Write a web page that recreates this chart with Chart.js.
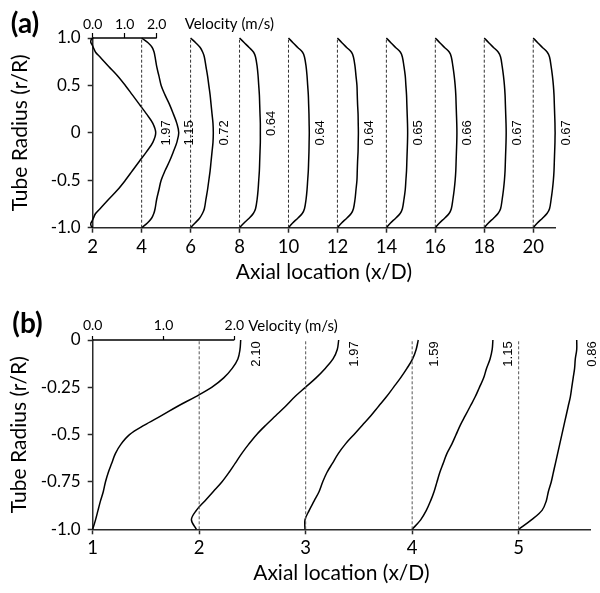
<!DOCTYPE html>
<html>
<head>
<meta charset="utf-8">
<script src="https://cdn.jsdelivr.net/npm/chart.js@4.4.0/dist/chart.umd.min.js"></script>
<style>
  html, body { margin: 0; padding: 0; background: #fff; }
  #wrap { position: relative; width: 600px; height: 593px; }
  canvas { position: absolute; left: 0; display: block; }
  #chartA { top: 0; }
  #chartB { top: 290px; }
</style>
</head>
<body>
<div id="wrap">
  <canvas id="chartA" width="600" height="290"></canvas>
  <canvas id="chartB" width="600" height="303"></canvas>
</div>
<script>
// ---------- panel (a) data ----------
const stationsA = [2, 4, 6, 8, 10, 12, 14, 16, 18, 20];
const xTicksA = [2, 4, 6, 8, 10, 12, 14, 16, 18, 20];
const xTickLabelsA = ['2', '4', '6', '8', '10', '12', '14', '16', '18', '20'];
const yTicksA = [-1, -0.5, 0, 0.5, 1];
const yTickLabelsA = ['-1.0', '-0.5', '0', '0.5', '1.0'];
const velTicks = [0, 1, 2];
const peakLabelsA = ['1.97', '1.15', '0.72', '0.64', '0.64', '0.64', '0.65', '0.66', '0.67', '0.67'];

// inlet profile has the little loops at the wall
const radiusInletA = [1, 0.98, 0.955, 0.93, 0.9, 0.85, 0.8, 0.7, 0.6, 0.5, 0.4, 0.3, 0.2, 0.1, 0,
  -0.1, -0.2, -0.3, -0.4, -0.5, -0.6, -0.7, -0.8, -0.85, -0.9, -0.93, -0.955, -0.98, -1];
const velA2 = [0, -0.05, -0.06, -0.02, 0.02, 0.09, 0.23, 0.5, 0.78, 1.02, 1.24, 1.46, 1.68, 1.88, 1.97,
  1.88, 1.68, 1.46, 1.24, 1.02, 0.78, 0.5, 0.23, 0.09, 0.02, -0.02, -0.06, -0.05, 0];

const radiusA = [1, 0.95, 0.9, 0.85, 0.8, 0.7, 0.6, 0.5, 0.4, 0.3, 0.2, 0.1, 0,
  -0.1, -0.2, -0.3, -0.4, -0.5, -0.6, -0.7, -0.8, -0.85, -0.9, -0.95, -1];
const velA4 = [0, 0.2, 0.33, 0.39, 0.42, 0.47, 0.54, 0.61, 0.73, 0.87, 0.99, 1.1, 1.16,
  1.1, 0.99, 0.87, 0.73, 0.61, 0.54, 0.47, 0.42, 0.38, 0.31, 0.18, 0];
const velA6 = [0, 0.16, 0.3, 0.38, 0.43, 0.48, 0.53, 0.57, 0.61, 0.64, 0.67, 0.7, 0.71,
  0.7, 0.67, 0.64, 0.61, 0.57, 0.53, 0.48, 0.43, 0.37, 0.28, 0.14, 0];
const velA8 = [0, 0.15, 0.3, 0.44, 0.5, 0.55, 0.58, 0.6, 0.62, 0.63, 0.64, 0.65, 0.65,
  0.65, 0.64, 0.63, 0.62, 0.6, 0.58, 0.55, 0.5, 0.43, 0.3, 0.14, 0];
const velA10 = [0, 0.14, 0.29, 0.44, 0.5, 0.55, 0.58, 0.6, 0.62, 0.63, 0.64, 0.645, 0.65,
  0.645, 0.64, 0.63, 0.62, 0.6, 0.58, 0.55, 0.5, 0.43, 0.29, 0.13, 0];
const velA12 = [0, 0.14, 0.29, 0.44, 0.5, 0.55, 0.58, 0.61, 0.62, 0.63, 0.645, 0.65, 0.655,
  0.65, 0.645, 0.63, 0.62, 0.61, 0.58, 0.55, 0.5, 0.43, 0.29, 0.13, 0];
const velA14 = [0, 0.14, 0.29, 0.44, 0.5, 0.55, 0.59, 0.61, 0.63, 0.64, 0.65, 0.66, 0.665,
  0.66, 0.65, 0.64, 0.63, 0.61, 0.59, 0.55, 0.5, 0.43, 0.29, 0.13, 0];
const velA16 = [0, 0.14, 0.29, 0.44, 0.5, 0.55, 0.59, 0.62, 0.64, 0.65, 0.66, 0.67, 0.675,
  0.67, 0.66, 0.65, 0.64, 0.62, 0.59, 0.55, 0.5, 0.43, 0.29, 0.13, 0];
const velA18 = [0, 0.14, 0.29, 0.44, 0.51, 0.56, 0.6, 0.63, 0.65, 0.66, 0.67, 0.68, 0.685,
  0.68, 0.67, 0.66, 0.65, 0.63, 0.6, 0.56, 0.51, 0.43, 0.29, 0.13, 0];
const velA20 = [0, 0.14, 0.29, 0.44, 0.51, 0.56, 0.6, 0.63, 0.65, 0.66, 0.67, 0.68, 0.685,
  0.68, 0.67, 0.66, 0.65, 0.63, 0.6, 0.56, 0.51, 0.43, 0.29, 0.13, 0];

// ---------- panel (b) data ----------
const stationsB = [1, 2, 3, 4, 5];
const xTicksB = [1, 2, 3, 4, 5];
const xTickLabelsB = ['1', '2', '3', '4', '5'];
const yTicksB = [-1, -0.75, -0.5, -0.25, 0];
const yTickLabelsB = ['-1.0', '-0.75', '-0.5', '-0.25', '0'];
const peakLabelsB = ['2.10', '1.97', '1.59', '1.15', '0.86'];

const radiusB = [0, -0.05, -0.1, -0.15, -0.2, -0.25, -0.3, -0.35, -0.4, -0.45, -0.5,
  -0.55, -0.6, -0.65, -0.7, -0.75, -0.8, -0.85, -0.9, -0.95, -1];
const velB1 = [2.09, 2.08, 2.05, 1.97, 1.85, 1.68, 1.45, 1.2, 0.97, 0.73, 0.52,
  0.4, 0.32, 0.27, 0.22, 0.18, 0.15, 0.11, 0.075, 0.04, 0];
const velB2 = [1.97, 1.95, 1.89, 1.78, 1.65, 1.5, 1.35, 1.22, 1.08, 0.94, 0.81,
  0.7, 0.6, 0.51, 0.42, 0.32, 0.2, 0.08, -0.04, -0.11, -0.04];
const velB3 = [1.59, 1.56, 1.51, 1.43, 1.34, 1.24, 1.14, 1.03, 0.92, 0.8, 0.68,
  0.56, 0.46, 0.38, 0.3, 0.24, 0.19, 0.12, 0.05, -0.01, -0.01];
const velB4 = [1.14, 1.13, 1.1, 1.05, 1.01, 0.95, 0.89, 0.82, 0.75, 0.68, 0.62,
  0.56, 0.49, 0.44, 0.39, 0.35, 0.31, 0.26, 0.2, 0.12, 0];
const velB5 = [0.82, 0.82, 0.8, 0.79, 0.77, 0.75, 0.73, 0.7, 0.67, 0.64, 0.61,
  0.58, 0.55, 0.52, 0.49, 0.46, 0.42, 0.39, 0.33, 0.18, 0];

const titleFont = { family: 'Lato', size: 21 };
const tickFontY = { family: 'Lato', size: 17 };
const tickFontX = { family: 'Lato', size: 18.5 };
const velTickFont = { family: 'Lato', size: 14 };
const axisColor = '#2a2a2a';

// draws panel letter, velocity caption and the rotated peak labels
const annotatePanel = {
  id: 'annotatePanel',
  afterDatasetsDraw(chart, args, opts) {
    const { ctx, chartArea, scales } = chart;
    ctx.save();
    ctx.fillStyle = '#000';

    ctx.font = 'bold 28px Lato';
    ctx.textAlign = 'center';
    ctx.textBaseline = 'middle';
    ctx.fillText(opts.letter, opts.letterX, opts.letterY);

    ctx.font = '15px Lato';
    ctx.textAlign = 'left';
    const capX = scales.v.getPixelForValue(velTicks[velTicks.length - 1]) + opts.captionGap;
    ctx.fillText('Velocity (m/s)', capX, chartArea.top - opts.captionRise);

    ctx.font = '13px "Liberation Sans", Arial';
    ctx.textAlign = 'center';
    opts.profiles.forEach((p, i) => {
      let peak = 0;
      p.vel.forEach((v, j) => { if (v > p.vel[peak]) peak = j; });
      const x = scales.x.getPixelForValue(p.station + p.vel[peak] * opts.velScale) + opts.labelDx;
      const y = scales.y.getPixelForValue(p.radius[peak]) + opts.labelDy;
      ctx.save();
      ctx.translate(x, y);
      ctx.rotate(-Math.PI / 2);
      ctx.fillText(opts.labels[i], 0, 0);
      ctx.restore();
    });
    ctx.restore();
  },
};

const buildPanel = (canvasId, p) => {
  const datasets = [];

  // short velocity axis line along the top
  datasets.push({
    xAxisID: 'v',
    data: [{ x: velTicks[0], y: p.yMax }, { x: velTicks[velTicks.length - 1], y: p.yMax }],
    showLine: true,
    borderColor: '#000',
    borderWidth: 1.5,
    pointRadius: 0,
    clip: false,
  });

  p.stations.slice(1).forEach(s => {
    datasets.push({
      data: [{ x: s, y: p.yMin }, { x: s, y: p.yMax }],
      showLine: true,
      borderColor: p.dashColor,
      borderWidth: 1,
      borderDash: [3, 2],
      pointRadius: 0,
    });
  });

  p.profiles.forEach(pr => {
    datasets.push({
      data: pr.radius.map((r, i) => ({ x: pr.station + pr.vel[i] * p.velScale, y: r })),
      showLine: true,
      borderColor: '#000',
      borderWidth: 1.5,
      pointRadius: 0,
      tension: 0.35,
      clip: false,
    });
  });

  const canvas = document.getElementById(canvasId);
  return new Chart(canvas.getContext('2d'), {
    type: 'scatter',
    data: { datasets: datasets },
    options: {
      responsive: false,
      animation: false,
      devicePixelRatio: 1,
      layout: { padding: { left: 0, right: p.padRight, top: 0, bottom: 0 } },
      plugins: {
        legend: { display: false },
        tooltip: { enabled: false },
        annotatePanel: {
          letter: p.letter,
          letterX: p.letterX,
          letterY: p.letterY,
          captionGap: p.captionGap,
          captionRise: p.captionRise,
          labels: p.labels,
          profiles: p.profiles,
          velScale: p.velScale,
          labelDx: p.labelDx,
          labelDy: p.labelDy,
        },
      },
      scales: {
        x: {
          type: 'linear',
          position: 'bottom',
          min: p.xMin,
          max: p.xMax,
          afterBuildTicks: s => { s.ticks = p.xTicks.map(v => ({ value: v })); },
          afterFit: s => { s.height = p.xAxisHeight; },
          ticks: {
            callback: (v, i) => p.xTickLabels[i],
            font: tickFontX,
            color: '#000',
            padding: 3,
            maxRotation: 0,
            autoSkip: false,
          },
          grid: { drawOnChartArea: false, drawTicks: true, tickLength: 5, tickColor: axisColor, tickWidth: 1.5 },
          border: { display: true, color: axisColor, width: 1.5 },
          title: {
            display: true,
            text: 'Axial location (x/D)',
            font: titleFont,
            color: '#000',
            padding: { top: 0, bottom: p.xTitlePad },
          },
        },
        y: {
          type: 'linear',
          position: 'left',
          min: p.yMin,
          max: p.yMax,
          afterBuildTicks: s => { s.ticks = p.yTicks.map(v => ({ value: v })); },
          afterFit: s => { s.width = p.yAxisWidth; },
          ticks: {
            callback: (v, i) => p.yTickLabels[i],
            font: tickFontY,
            color: '#000',
            padding: 7,
          },
          grid: { drawOnChartArea: false, drawTicks: true, tickLength: 5, tickColor: axisColor, tickWidth: 1.5 },
          border: { display: true, color: axisColor, width: 1.5 },
          title: {
            display: true,
            text: 'Tube Radius (r/R)',
            font: titleFont,
            color: '#000',
            padding: { top: p.yTitlePad, bottom: 0 },
          },
        },
        v: {
          type: 'linear',
          position: 'top',
          min: 0,
          max: (p.xMax - p.xMin) / p.velScale,
          afterBuildTicks: s => { s.ticks = velTicks.map(v => ({ value: v })); },
          afterFit: s => { s.height = p.topHeight; },
          ticks: {
            callback: v => v.toFixed(1),
            font: velTickFont,
            color: '#000',
            padding: p.velTickPad,
            maxRotation: 0,
            autoSkip: false,
          },
          grid: { drawOnChartArea: false, drawTicks: true, tickLength: p.velTickLen, tickColor: '#000', tickWidth: 1.2 },
          border: { display: false },
        },
      },
    },
    plugins: [annotatePanel],
  });
};

const profilesA = [
  { station: stationsA[0], radius: radiusInletA, vel: velA2 },
  { station: stationsA[1], radius: radiusA, vel: velA4 },
  { station: stationsA[2], radius: radiusA, vel: velA6 },
  { station: stationsA[3], radius: radiusA, vel: velA8 },
  { station: stationsA[4], radius: radiusA, vel: velA10 },
  { station: stationsA[5], radius: radiusA, vel: velA12 },
  { station: stationsA[6], radius: radiusA, vel: velA14 },
  { station: stationsA[7], radius: radiusA, vel: velA16 },
  { station: stationsA[8], radius: radiusA, vel: velA18 },
  { station: stationsA[9], radius: radiusA, vel: velA20 },
];

const profilesB = [
  { station: stationsB[0], radius: radiusB, vel: velB1 },
  { station: stationsB[1], radius: radiusB, vel: velB2 },
  { station: stationsB[2], radius: radiusB, vel: velB3 },
  { station: stationsB[3], radius: radiusB, vel: velB4 },
  { station: stationsB[4], radius: radiusB, vel: velB5 },
];

buildPanel('chartA', {
  letter: '(a)', letterX: 25, letterY: 24,
  stations: stationsA, profiles: profilesA, labels: peakLabelsA,
  xMin: 2, xMax: 20.89, yMin: -1, yMax: 1,
  xTicks: xTicksA, xTickLabels: xTickLabelsA,
  yTicks: yTicksA, yTickLabels: yTickLabelsA,
  velScale: 1.307,
  padRight: 45, xAxisHeight: 62.3, yAxisWidth: 92.7, topHeight: 38,
  xTitlePad: 5.4, yTitlePad: 7.4,
  velTickPad: 0, velTickLen: 5,
  captionGap: 28, captionRise: 13.5,
  labelDx: 11, labelDy: 0,
  dashColor: '#333',
});

buildPanel('chartB', {
  letter: '(b)', letterX: 27.5, letterY: 34,
  stations: stationsB, profiles: profilesB, labels: peakLabelsB,
  xMin: 1, xMax: 5.67, yMin: -1, yMax: 0,
  xTicks: xTicksB, xTickLabels: xTickLabelsB,
  yTicks: yTicksB, yTickLabels: yTickLabelsB,
  velScale: 0.665,
  padRight: 10, xAxisHeight: 63.7, yAxisWidth: 92.7, topHeight: 50,
  xTitlePad: 7.4, yTitlePad: 7,
  velTickPad: 2, velTickLen: 4,
  captionGap: 14, captionRise: 14,
  labelDx: 16, labelDy: 14,
  dashColor: '#555',
});
</script>
</body>
</html>
